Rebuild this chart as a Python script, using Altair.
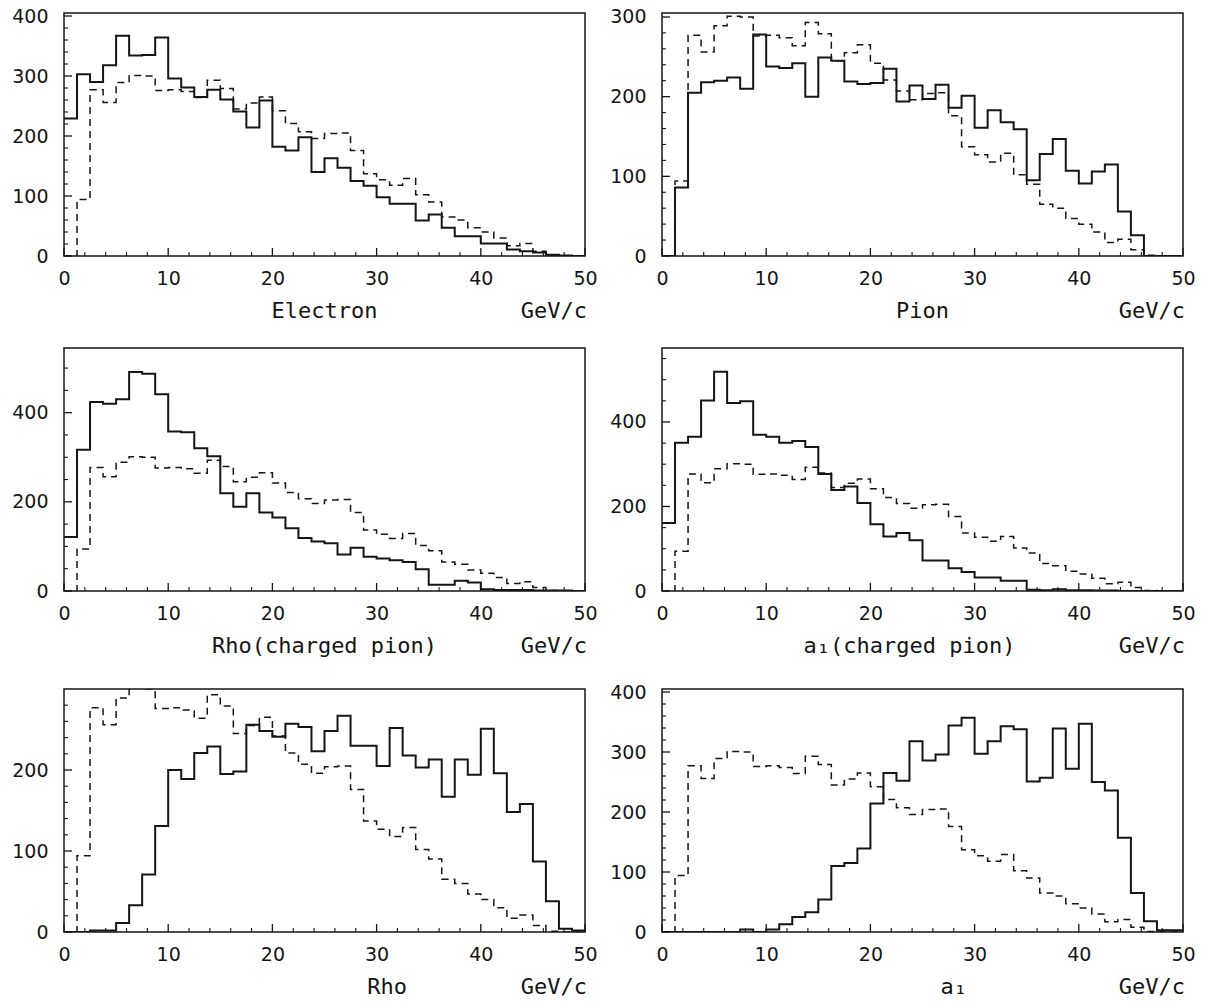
import altair as alt
import pandas as pd

# ---------------- data ----------------
BIN_EDGES = [0, 1.25, 2.5, 3.75, 5, 6.25, 7.5, 8.75, 10, 11.25, 12.5, 13.75, 15, 16.25,
             17.5, 18.75, 20, 21.25, 22.5, 23.75, 25, 26.25, 27.5, 28.75, 30, 31.25, 32.5,
             33.75, 35, 36.25, 37.5, 38.75, 40, 41.25, 42.5, 43.75, 45, 46.25, 47.5, 48.75, 50]

# dashed reference histogram (same in every panel)
DASHED = [0, 94, 277, 256, 289, 301, 300, 276, 277, 274, 264, 293, 279, 245, 255, 265, 242, 221,
          207, 196, 204, 205, 176, 137, 127, 118, 129, 102, 90, 65, 60, 47, 40, 30, 17, 21, 8, 1, 0, 0]

ELECTRON = [229, 303, 290, 318, 367, 334, 335, 364, 296, 281, 265, 277, 261, 241, 214, 259, 182, 176,
            198, 140, 163, 147, 125, 117, 98, 87, 87, 59, 69, 47, 33, 33, 21, 21, 11, 8, 6, 2, 1, 0]

PION = [0, 86, 205, 218, 220, 224, 210, 278, 238, 236, 242, 200, 249, 245, 219, 216, 217, 235, 194,
        214, 197, 215, 186, 201, 161, 183, 168, 159, 95, 128, 147, 107, 91, 106, 115, 56, 26, 0, 0, 0]

RHO_CHARGED = [121, 317, 424, 420, 430, 491, 487, 441, 358, 356, 320, 302, 219, 189, 219, 176, 165,
               141, 119, 111, 107, 82, 97, 77, 73, 69, 65, 49, 14, 14, 23, 19, 4, 2, 2, 2, 1, 1, 1, 0]

A1_CHARGED = [161, 351, 365, 451, 519, 445, 449, 370, 365, 351, 355, 341, 277, 239, 247, 208, 158,
              129, 137, 120, 72, 72, 54, 45, 32, 32, 24, 24, 3, 2, 4, 2, 2, 1, 1, 0, 0, 0, 0, 0]

RHO = [0, 0, 2, 2, 11, 33, 71, 131, 200, 189, 221, 229, 195, 198, 256, 248, 241, 257, 253, 223, 248,
       267, 230, 230, 205, 252, 218, 203, 213, 167, 213, 194, 251, 196, 148, 158, 87, 38, 4, 2]

A1 = [0, 0, 0, 0, 0, 0, 4, 0, 4, 13, 25, 33, 54, 110, 115, 139, 214, 265, 252, 318, 286, 296, 344,
      357, 297, 318, 343, 338, 251, 257, 339, 272, 347, 250, 236, 157, 65, 18, 3, 3]

X_LABELS = [0, 10, 20, 30, 40, 50]
X_MINOR = [2, 4, 6, 8, 12, 14, 16, 18, 22, 24, 26, 28, 32, 34, 36, 38, 42, 44, 46, 48]

TITLES = ["Electron", "Pion", "Rho(charged pion)", "a\u2081(charged pion)", "Rho", "a\u2081"]
UNIT = "GeV/c"
Y_MAX = [405, 305, 545, 575, 300, 405]
Y_LABELS = [[0, 100, 200, 300, 400], [0, 100, 200, 300], [0, 200, 400], [0, 200, 400],
            [0, 100, 200], [0, 100, 200, 300, 400]]
Y_MINOR = [[20, 40, 60, 80, 120, 140, 160, 180, 220, 240, 260, 280, 320, 340, 360, 380],
           [20, 40, 60, 80, 120, 140, 160, 180, 220, 240, 260, 280],
           [50, 100, 150, 250, 300, 350, 450, 500],
           [50, 100, 150, 250, 300, 350, 450, 500, 550],
           [20, 40, 60, 80, 120, 140, 160, 180, 220, 240, 260, 280],
           [20, 40, 60, 80, 120, 140, 160, 180, 220, 240, 260, 280, 320, 340, 360, 380]]
SOLID = [ELECTRON, PION, RHO_CHARGED, A1_CHARGED, RHO, A1]
TITLE_POS = [0.5, 0.5, 0.5, 0.475, 0.62, 0.56]

# ---------------- styling ----------------
W, H = 521, 243
INK = "#151515"
LABEL_FONT = "DejaVu Sans"
TITLE_FONT = "DejaVu Sans Mono"


def step_frame(vals):
    return pd.DataFrame({"x": BIN_EDGES, "y": list(vals) + [vals[-1]]})


def panel(i):
    xs = alt.Scale(domain=[0, 50], nice=False, zero=False)
    ys = alt.Scale(domain=[0, Y_MAX[i]], nice=False)
    xaxis = alt.Axis(values=X_LABELS, ticks=False, domain=False, grid=False, title=None,
                     labelFont=LABEL_FONT, labelFontSize=19, labelColor=INK, labelPadding=13,
                     labelFlush=False, labelOverlap=False)
    yaxis = alt.Axis(values=Y_LABELS[i], ticks=False, domain=False, grid=False, title=None,
                     labelFont=LABEL_FONT, labelFontSize=19, labelColor=INK, labelPadding=16,
                     labelOverlap=False)

    def X(f):
        return alt.X(f"{f}:Q", scale=xs, axis=xaxis)

    def Y(f):
        return alt.Y(f"{f}:Q", scale=ys, axis=yaxis)

    solid = alt.Chart(step_frame(SOLID[i])).mark_line(
        interpolate="step-after", color=INK, strokeWidth=2, clip=True
    ).encode(x=X("x"), y=Y("y"), order="x:Q")
    dashed = alt.Chart(step_frame(DASHED)).mark_line(
        interpolate="step-after", color=INK, strokeWidth=1.5, strokeDash=[7, 5], clip=True
    ).encode(x=X("x"), y=Y("y"), order="x:Q")

    xmaj = alt.Chart(pd.DataFrame({"x": X_LABELS})).mark_rule(color=INK, strokeWidth=1.3).encode(
        x=X("x"), y=alt.value(H), y2=alt.value(H - 8))
    xmin = alt.Chart(pd.DataFrame({"x": X_MINOR})).mark_rule(color=INK, strokeWidth=1.1).encode(
        x=X("x"), y=alt.value(H), y2=alt.value(H - 4))
    ymaj = alt.Chart(pd.DataFrame({"y": Y_LABELS[i]})).mark_rule(color=INK, strokeWidth=1.3).encode(
        y=Y("y"), x=alt.value(0), x2=alt.value(8))
    ymin = alt.Chart(pd.DataFrame({"y": Y_MINOR[i]})).mark_rule(color=INK, strokeWidth=1.1).encode(
        y=Y("y"), x=alt.value(0), x2=alt.value(4))

    title = alt.Chart(pd.DataFrame({"t": [TITLES[i]]})).mark_text(
        font=TITLE_FONT, fontSize=22, color=INK, align="center", baseline="middle"
    ).encode(text="t:N", x=alt.value(W * TITLE_POS[i]), y=alt.value(H + 55))
    unit = alt.Chart(pd.DataFrame({"t": [UNIT]})).mark_text(
        font=TITLE_FONT, fontSize=22, color=INK, align="right", baseline="middle"
    ).encode(text="t:N", x=alt.value(W + 2), y=alt.value(H + 55))

    return alt.layer(dashed, solid, xmaj, xmin, ymaj, ymin, title, unit).properties(width=W, height=H)


rows = [alt.hconcat(panel(2 * r), panel(2 * r + 1), spacing=10) for r in range(3)]
chart = alt.vconcat(*rows, spacing=24).properties(
    padding={"left": 10, "top": 6, "right": 5, "bottom": 5}, background="white"
).configure_view(stroke=INK, strokeWidth=1.5)

chart.save("out.html", embed_options={"renderer": "svg", "actions": False})
